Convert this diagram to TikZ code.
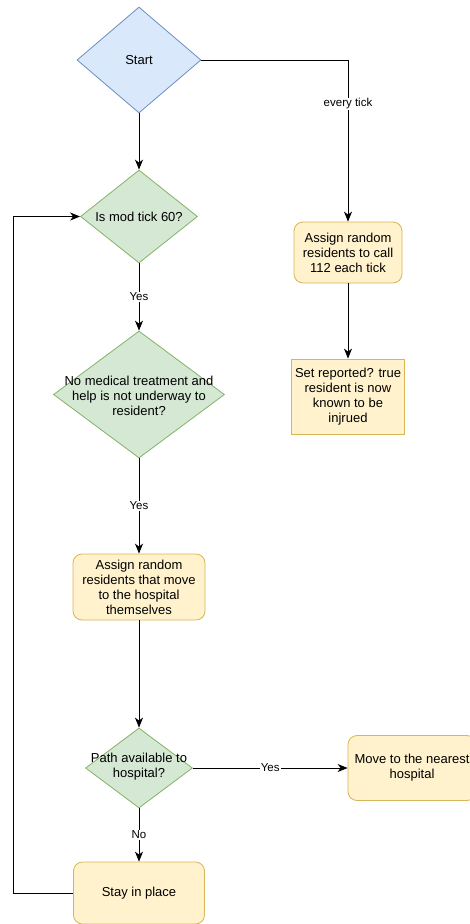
\documentclass[tikz,border=0pt]{standalone}
\usepackage{fontspec}
\setmainfont{Liberation Sans}
\usetikzlibrary{shapes.geometric,arrows.meta}

\definecolor{bluefill}{HTML}{DAE8FC}
\definecolor{bluedraw}{HTML}{6C8EBF}
\definecolor{greenfill}{HTML}{D5E8D4}
\definecolor{greendraw}{HTML}{82B366}
\definecolor{yellowfill}{HTML}{FFF2CC}
\definecolor{yellowdraw}{HTML}{D6B656}

\tikzset{
  base/.style={font=\fontsize{13}{15}\selectfont, align=center, inner sep=0pt, line width=0.8pt},
  decision/.style={base, diamond, draw=greendraw, fill=greenfill},
  startshape/.style={base, diamond, draw=bluedraw, fill=bluefill},
  procbox/.style={base, rectangle, rounded corners=9pt, draw=yellowdraw, fill=yellowfill},
  plainbox/.style={base, rectangle, draw=yellowdraw, fill=yellowfill},
  txt/.style={font=\fontsize{13}{15}\selectfont, align=center, inner sep=0pt},
  edgelabel/.style={font=\fontsize{11.5}{13}\selectfont, fill=white, inner sep=1pt},
  arr/.style={draw=black, line width=0.8pt, -{Stealth[length=10pt,width=8pt,inset=3pt]}}
}

\begin{document}
\begin{tikzpicture}[x=1pt, y=-1pt]
  \useasboundingbox (0,0) rectangle (470,924);

  % decision shapes (drawn empty; their text is set on top)
  \node[startshape, minimum width=124pt, minimum height=106pt] (start) at (139,60) {};
  \node[txt] (starttxt) at (start.center) {Start};

  \node[decision, minimum width=117pt, minimum height=93pt] (mod) at (139,216.5) {};
  \node[txt] (modtxt) at (mod.center) {Is mod tick 60?};

  \node[decision, minimum width=171pt, minimum height=127pt] (med) at (139,394.5) {};
  \node[txt] (medtxt) at ([yshift=-1pt]med.center) {No medical treatment and\\help is not underway to\\resident?};

  \node[decision, minimum width=107pt, minimum height=80pt] (path) at (139,768) {};
  \node[txt] (pathtxt) at ([yshift=1pt]path.center) {Path available to\\hospital?};

  % process boxes
  \node[procbox, minimum width=108pt, minimum height=61pt] (call) at (348,252.5)
    {Assign random\\residents to call\\112 each tick};
  \node[plainbox, minimum width=113pt, minimum height=75pt] (rep) at (348,396.5)
    {Set reported? true\\resident is now\\known to be\\injrued};
  \node[procbox, minimum width=132pt, minimum height=66pt] (self) at (139,587)
    {Assign random\\residents that move\\to the hospital\\themselves};
  \node[procbox, minimum width=128pt, minimum height=65pt] (move) at (412,768)
    {Move to the nearest\\hospital};
  \node[procbox, minimum width=131pt, minimum height=62pt] (stay) at (139,893)
    {Stay in place};

  \coordinate (loop) at (13,893);

  % connectors
  \draw[arr] (start.east) -| node[edgelabel, pos=0.636] (lbltick) {every tick} (call.north);
  \draw[arr] (call.south) -- (rep.north);
  \draw[arr] (start.south) -- (mod.north);
  \draw[arr] (mod.south) -- node[edgelabel] (lblyes1) {Yes} (med.north);
  \draw[arr] (med.south) -- node[edgelabel] (lblyes2) {Yes} (self.north);
  \draw[arr] (self.south) -- (path.north);
  \draw[arr] (path.east) -- node[edgelabel] (lblyes3) {Yes} (move.west);
  \draw[arr] (path.south) -- node[edgelabel] (lblno) {No} (stay.north);
  \draw[arr] (stay.west) -- (loop) |- (mod.west);
\end{tikzpicture}
\end{document}
